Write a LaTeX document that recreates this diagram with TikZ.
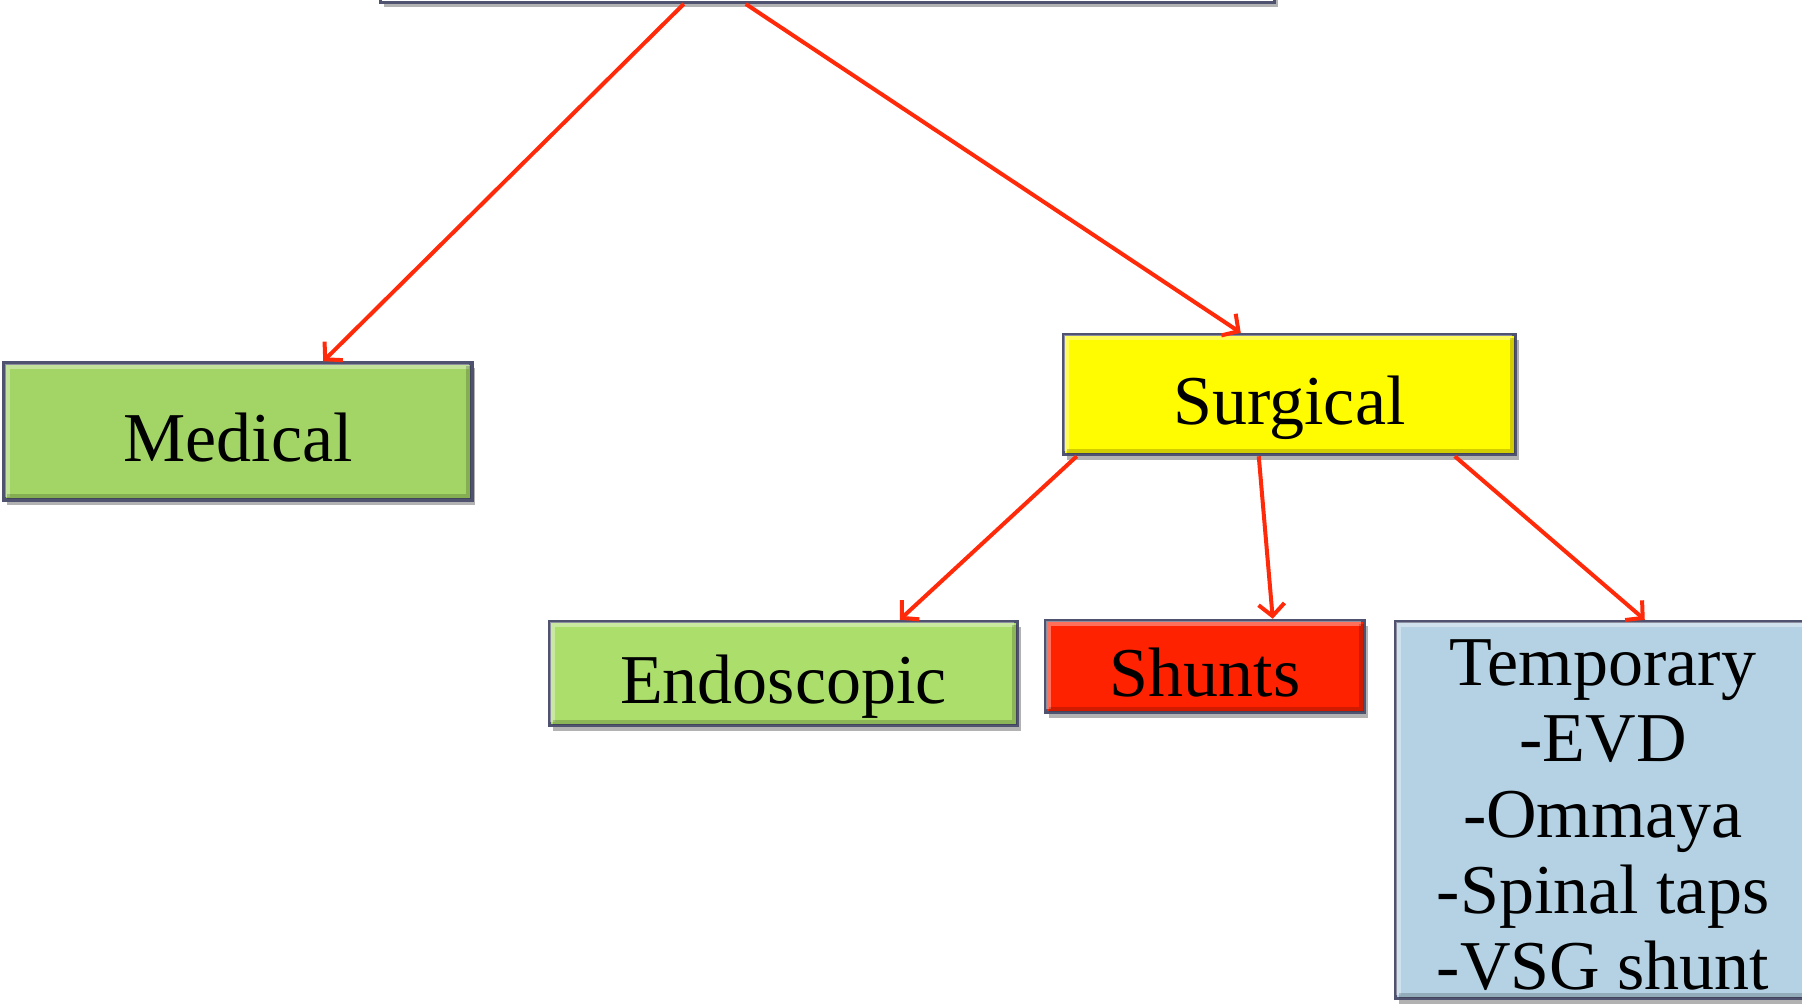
\documentclass[tikz,border=0pt]{standalone}
\usepackage{fontspec}
\setmainfont{Liberation Serif}
\usetikzlibrary{arrows.meta,shadows}
\definecolor{edgec}{HTML}{50536F}
\definecolor{arrowred}{HTML}{FF2A0A}
\definecolor{medgreen}{HTML}{A3D566}
\definecolor{endgreen}{HTML}{ACDE6C}
\definecolor{surgyellow}{HTML}{FFFB00}
\definecolor{shuntred}{HTML}{FF2200}
\definecolor{tempblue}{HTML}{B4D2E4}
\newcommand\bevelbox[1]{%
  \draw[white,opacity=0.35,line width=5pt]
    ([shift={(5,-5)}]#1.south west) -- ([shift={(5,5)}]#1.north west) -- ([shift={(-5,5)}]#1.north east);
  \draw[black,opacity=0.18,line width=5pt]
    ([shift={(-5,5)}]#1.north east) -- ([shift={(-5,-5)}]#1.south east) -- ([shift={(5,-5)}]#1.south west);
}
\begin{document}
\begin{tikzpicture}[x=1pt,y=-1pt,
  box/.style={draw=edgec, line width=3.5pt, rectangle, inner sep=0pt,
    font=\fontsize{70}{76}\selectfont, text height=64pt, text depth=5pt,
    drop shadow={shadow xshift=3pt,shadow yshift=-5pt,fill=black,opacity=0.3}},
  link/.style={draw=arrowred, line width=4pt, -{Straight Barb[length=12pt,width=26pt]}},
  lbl/.style={font=\fontsize{70}{76}\selectfont, align=center, inner sep=0pt}
]
\useasboundingbox (0,0) rectangle (1802,1004);
\clip (0,0) rectangle (1802,1004);
\fill[white] (0,0) rectangle (1802,1004);

% top box (only its lower edge is visible)
\node[box, fill=white, minimum width=894pt, minimum height=200pt, anchor=south] (top) at (827.5,4) {};

\node[box, fill=medgreen, minimum width=468pt, minimum height=137pt] (medical) at (238,431.5) {Medical};
\bevelbox{medical}
\node[box, fill=surgyellow, minimum width=452pt, minimum height=120pt] (surgical) at (1289.5,394.5) {Surgical};
\bevelbox{surgical}
\node[box, fill=endgreen, minimum width=468pt, minimum height=104pt] (endo) at (783.5,673.5) {Endoscopic};
\bevelbox{endo}
\node[box, fill=shuntred, minimum width=319pt, minimum height=92pt] (shunts) at (1205,666.5) {Shunts};
\bevelbox{shunts}
\node[box, fill=tempblue, minimum width=415pt, minimum height=377pt] (temp) at (1603,810) {};
\bevelbox{temp}
\node[lbl] (templabel) at (1603,815.5) {Temporary\\-EVD\\-Ommaya\\-Spinal taps\\-VSG shunt};

\draw[link] ([xshift=305pt]top.south west) -- ([xshift=321pt]medical.north west);
\draw[link] ([xshift=367pt]top.south west) -- ([xshift=179pt]surgical.north west);
\draw[link] ([xshift=15pt]surgical.south west) -- ([xshift=352pt]endo.north west);
\draw[link] ([xshift=197pt]surgical.south west) -- ([xshift=229pt]shunts.north west);
\draw[link] ([xshift=393pt]surgical.south west) -- ([xshift=251pt]temp.north west);
\end{tikzpicture}
\end{document}
